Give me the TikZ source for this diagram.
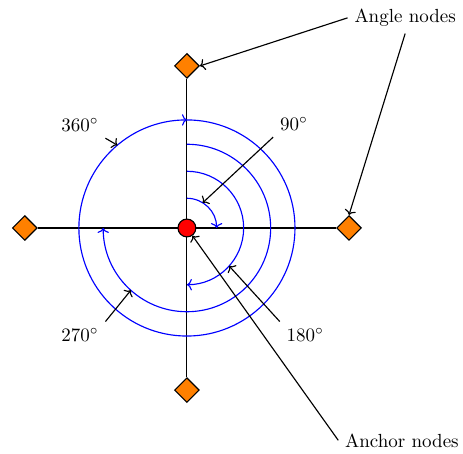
\documentclass[tikz,border=0pt]{standalone}
\usepackage{tikz}
\usetikzlibrary{arrows.meta,shapes.geometric}

\begin{document}
\begin{tikzpicture}[
  semithick,
  >={To[length=2.6pt,width=6pt]},
  anchornode/.style={draw, circle, fill=red, minimum size=3.3mm, inner sep=0pt},
  anglenode/.style={draw, diamond, fill=orange, minimum size=4.6mm, inner sep=0pt},
  sweep/.style={->, blue},
  pointer/.style={->},
]
\useasboundingbox (-3.46,-4.17) rectangle (5.11,4.22);

% axes and angle nodes
\node[anglenode] (n90)  at (90:3)  {};
\node[anglenode] (n0)   at (0:3)   {};
\node[anglenode] (n270) at (270:3) {};
\node[anglenode] (n180) at (180:3) {};
\foreach \a in {n90,n0,n270,n180}
  \draw (0,0) -- (\a);

% swept angles
\draw[sweep] (90:0.55) arc[start angle=90, end angle=0,    radius=0.55];
\draw[sweep] (90:1.05) arc[start angle=90, end angle=-90,  radius=1.05];
\draw[sweep] (90:1.55) arc[start angle=90, end angle=-180, radius=1.55];
\draw[sweep] (90:2)    arc[start angle=90, end angle=-270, radius=2];

\node[anchornode] (c) at (0,0) {};

% labels
\coordinate (t90)  at (58:0.55);
\coordinate (t180) at (-42:1.05);
\coordinate (t270) at (-132:1.55);
\coordinate (t360) at (130:2);
\node (l90)  at (1.98,1.93)   {$90^\circ$};
\node (l180) at (2.19,-1.98)  {$180^\circ$};
\node (l270) at (-1.98,-1.98) {$270^\circ$};
\node (l360) at (-1.98,1.91)  {$360^\circ$};
\draw[pointer] (l90.south west)  -- (t90);
\draw[pointer] (l180.north west) -- (t180);
\draw[pointer] (l270.north east) -- (t270);
\draw[pointer] (l360.south east) -- (t360);

\node (angles)  at (4.04,3.89)  {Angle nodes};
\node (anchors) at (3.98,-3.93) {Anchor nodes};
\draw[pointer] (angles.west)  -- (n90.east);
\draw[pointer] (angles.south) -- (n0.north);
\draw[pointer] (anchors.west) -- (c);
\end{tikzpicture}
\end{document}
